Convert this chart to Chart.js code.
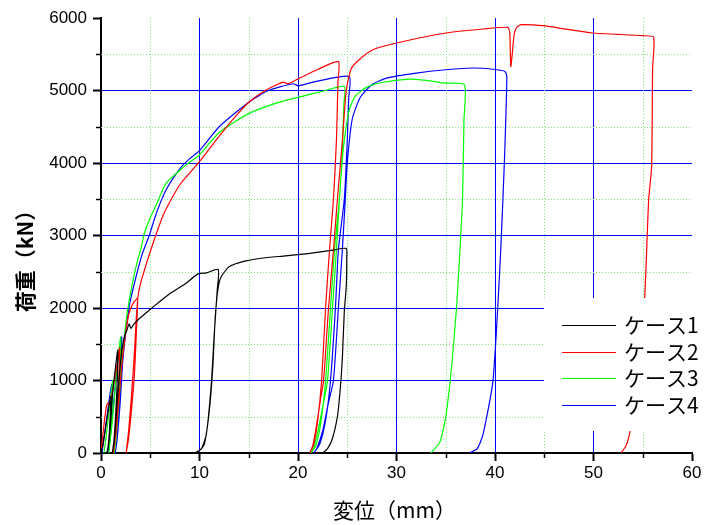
<!DOCTYPE html>
<html>
<head>
<meta charset="utf-8">
<script src="https://cdn.jsdelivr.net/npm/chart.js@4.4.1/dist/chart.umd.min.js"></script>
<style>
  html, body { margin: 0; padding: 0; background: #fff; }
  #mycanvas { display: block; }
</style>
</head>
<body>
<canvas id="mycanvas" width="705" height="525"></canvas>
<script>
// load-displacement records, one pair of arrays per case (mm, kN)
var case1X = [0, 0.2, 0.5, 0.8, 1.0, 0.95, 0.85, 0.7, 0.6, 0.8, 1.0, 1.15, 1.4, 1.7, 1.65, 1.5, 1.3, 1.15,
  1.35, 1.6, 1.85, 2.1, 2.4, 2.65, 2.85, 3.05, 3.3, 3.9, 5.3, 7.0, 8.6, 9.8, 10.7, 11.9,
  11.8, 11.5, 11.2, 10.7, 10.2, 9.5, 10.0, 10.5, 11.0, 11.35, 11.6, 11.9, 12.2, 13.0, 14.7, 17.1,
  18.5, 21.2, 23.5, 24.9, 24.95, 24.9, 24.7, 24.5, 24.3, 24.0, 23.5, 23.0, 22.5];
var case1Y = [0, 120, 380, 640, 780, 550, 280, 60, 0, 150, 450, 780, 1100, 1420, 1000, 550, 150, 0,
  180, 600, 1050, 1400, 1620, 1700, 1780, 1720, 1770, 1855, 2015, 2200, 2338, 2467, 2485, 2532,
  2246, 1647, 956, 265, 58, 0, 35, 127, 587, 1186, 1877, 2291, 2430, 2568, 2650, 2700,
  2716, 2753, 2798, 2822, 2700, 2300, 1950, 1300, 900, 500, 200, 60, 0];

var case2X = [0, 0.15, 0.35, 0.55, 0.7, 0.85, 1.0, 1.3, 1.6, 1.9, 1.8, 1.6, 1.4, 1.25, 1.5, 1.8, 2.1, 2.4,
  2.8, 3.2, 3.7, 3.6, 3.4, 3.1, 2.8, 2.55, 2.8, 3.1, 3.4, 3.6, 3.8, 4.2, 5.3, 6.4, 8.0, 10.0,
  12.0, 13.5, 15.1, 16.8, 18.0, 18.5, 19.0, 20.0, 22.0, 24.1, 24.05, 23.9, 23.6, 23.2, 22.8, 22.4,
  22.0, 21.6, 21.2, 21.5, 21.9, 22.3, 22.6, 23.1, 23.6, 24.0, 24.5, 24.9, 25.4, 26.2, 27.6, 30.0,
  35.0, 38.8, 41.3, 41.5, 41.6, 41.75, 41.95, 42.2, 42.7, 44.9, 47.0, 49.9, 52.5, 55.0, 56.1, 56.0,
  55.9, 55.6, 55.2, 54.6, 54.1, 53.7, 53.3, 52.8];
var case2Y = [0, 200, 450, 640, 690, 660, 730, 950, 1200, 1450, 1000, 500, 150, 0, 250, 700, 1200, 1550,
  1900, 2050, 2131, 1700, 1100, 600, 200, 0, 300, 800, 1400, 1900, 2200, 2430, 2900, 3306, 3700, 4019,
  4370, 4620, 4848, 5010, 5090, 5116, 5093, 5160, 5290, 5400, 5100, 4300, 3500, 2800, 2000, 1000,
  450, 120, 0, 100, 400, 750, 1000, 2000, 2800, 3500, 4300, 5000, 5300, 5424, 5562, 5655,
  5793, 5848, 5871, 5800, 5330, 5500, 5780, 5870, 5908, 5894, 5850, 5793, 5775, 5756, 5738, 5300,
  3950, 3490, 2153, 1200, 600, 288, 100, 0];

var case3X = [0.3, 0.5, 0.8, 1.0, 1.2, 1.1, 0.95, 0.8, 1.0, 1.3, 1.5, 1.8, 2.0, 1.9, 1.7, 1.5, 1.35,
  1.55, 1.85, 2.1, 2.4, 2.7, 3.2, 3.7, 4.1, 4.4, 4.9, 5.6, 6.6, 8.0, 9.0, 10.0, 12.0, 15.1, 17.8,
  20.1, 22.5, 24.7, 24.65, 24.5, 24.2, 23.7, 23.3, 22.8, 22.3, 21.8, 21.3, 21.6, 22.1, 22.6, 23.0,
  23.5, 23.9, 24.2, 24.6, 25.2, 25.8, 26.9, 28.5, 31.3, 33.0, 35.0, 36.9, 36.85, 36.7, 36.4, 36.1,
  35.6, 35.0, 34.4, 33.5];
var case3Y = [0, 200, 550, 800, 1000, 600, 250, 0, 250, 650, 1000, 1400, 1600, 1100, 600, 200, 0,
  250, 750, 1250, 1650, 1969, 2350, 2650, 2844, 3029, 3213, 3420, 3720, 3900, 4010, 4110, 4420, 4688, 4826,
  4909, 4990, 5055, 4800, 4200, 3500, 2800, 2000, 1000, 400, 100, 0, 80, 350, 700, 1000,
  2000, 2800, 3490, 4200, 4730, 4920, 5040, 5110, 5157, 5140, 5102, 5079, 4600, 3490, 2700, 2015,
  1200, 495, 150, 0];

var case4X = [0.1, 0.3, 0.6, 0.9, 1.1, 1.0, 0.85, 0.7, 0.95, 1.25, 1.5, 1.8, 2.1, 2.0, 1.8, 1.6, 1.45,
  1.65, 1.95, 2.2, 2.5, 2.9, 3.5, 4.2, 4.9, 5.6, 6.6, 8.0, 9.0, 10.0, 12.0, 15.1, 17.0, 19.5, 20.0,
  20.4, 22.0, 25.2, 25.15, 25.0, 24.7, 24.1, 23.8, 23.3, 22.8, 22.2, 21.6, 21.9, 22.5, 23.1, 23.6,
  24.1, 24.5, 24.8, 25.0, 25.5, 26.3, 27.5, 29.0, 32.0, 35.0, 37.7, 40.0, 41.0, 41.2, 41.0, 40.8,
  40.5, 39.8, 38.8, 38.2, 37.4];
var case4Y = [0, 200, 500, 800, 950, 550, 200, 0, 250, 650, 1000, 1350, 1600, 1100, 550, 150, 0,
  200, 700, 1250, 1650, 2050, 2400, 2750, 3000, 3300, 3628, 3920, 4060, 4170, 4500, 4848, 5000, 5093, 5065,
  5075, 5130, 5194, 4900, 4300, 3500, 2800, 2000, 1000, 450, 120, 0, 60, 300, 700, 1000,
  2000, 2800, 3500, 4000, 4600, 4900, 5080, 5171, 5240, 5286, 5310, 5290, 5263, 5194, 4200, 3490,
  2568, 1002, 265, 60, 0];

var caseNames = ['ケース1', 'ケース2', 'ケース3', 'ケース4'];
var xTicks = [0, 10, 20, 30, 40, 50, 60];
var yTicks = [0, 1000, 2000, 3000, 4000, 5000, 6000];

var caseColors = ['#000000', '#ff0000', '#00ff00', '#0000ff'];
var jpFont = '"Noto Sans CJK JP", sans-serif';

function toPoints(xs, ys) {
  var pts = [];
  for (var i = 0; i < xs.length; i++) pts.push({ x: xs[i], y: ys[i] });
  return pts;
}

var allX = [case1X, case2X, case3X, case4X];
var allY = [case1Y, case2Y, case3Y, case4Y];
var datasets = [];
for (var i = 0; i < caseNames.length; i++) {
  datasets.push({
    label: caseNames[i],
    data: toPoints(allX[i], allY[i]),
    borderColor: caseColors[i],
    backgroundColor: caseColors[i],
    borderWidth: 1.2,
    pointRadius: 0,
    showLine: true,
    tension: 0.2
  });
}

// dotted half-step grid and the short minor ticks
var minorGrid = {
  id: 'minorGrid',
  beforeDatasetsDraw: function(chart) {
    var ctx = chart.ctx, xs = chart.scales.x, ys = chart.scales.y, a = chart.chartArea;
    ctx.save();
    ctx.strokeStyle = '#7ee87e';
    ctx.lineWidth = 1;
    ctx.setLineDash([1, 2]);
    for (var v = 5; v < 60; v += 10) {
      var px = Math.round(xs.getPixelForValue(v)) + 0.5;
      ctx.beginPath(); ctx.moveTo(px, a.top); ctx.lineTo(px, a.bottom); ctx.stroke();
    }
    for (var w = 500; w < 6000; w += 1000) {
      var py = Math.round(ys.getPixelForValue(w)) + 0.5;
      ctx.beginPath(); ctx.moveTo(a.left, py); ctx.lineTo(a.right, py); ctx.stroke();
    }
    ctx.setLineDash([]);
    ctx.strokeStyle = '#000';
    ctx.lineWidth = 1.5;
    for (v = 5; v < 60; v += 10) {
      px = Math.round(xs.getPixelForValue(v)) + 0.5;
      ctx.beginPath(); ctx.moveTo(px, a.bottom); ctx.lineTo(px, a.bottom + 5); ctx.stroke();
    }
    for (w = 500; w < 6000; w += 1000) {
      py = Math.round(ys.getPixelForValue(w)) + 0.5;
      ctx.beginPath(); ctx.moveTo(a.left, py); ctx.lineTo(a.left - 5, py); ctx.stroke();
    }
    ctx.restore();
  }
};

// legend box sitting inside the plot, blanking what is under it
var boxLegend = {
  id: 'boxLegend',
  afterDatasetsDraw: function(chart) {
    var ctx = chart.ctx, a = chart.chartArea;
    var left = a.right - 148, top = a.top + 280;
    ctx.save();
    ctx.fillStyle = '#fff';
    ctx.fillRect(left, top, 705 - left, 133);
    ctx.font = '21px ' + jpFont;
    ctx.textBaseline = 'middle';
    ctx.fillStyle = '#000';
    chart.data.datasets.forEach(function(ds, k) {
      var y = Math.round(top + 27 + k * 26.7) + 0.5;
      ctx.strokeStyle = ds.borderColor;
      ctx.lineWidth = 1;
      ctx.beginPath(); ctx.moveTo(left + 18, y); ctx.lineTo(left + 72, y); ctx.stroke();
      ctx.fillText(ds.label, left + 80, y);
    });
    ctx.restore();
  }
};

// axis titles
var axisTitles = {
  id: 'axisTitles',
  afterDraw: function(chart) {
    var ctx = chart.ctx, a = chart.chartArea;
    ctx.save();
    ctx.fillStyle = '#000';
    ctx.textAlign = 'center';
    ctx.textBaseline = 'middle';
    ctx.font = '21px ' + jpFont;
    ctx.fillText('変位（mm）', (a.left + a.right) / 2 - 2, 510);
    ctx.font = 'bold 21px ' + jpFont;
    ctx.translate(25, 256);
    ctx.rotate(-Math.PI / 2);
    ctx.fillText('荷重（kN）', 0, 0);
    ctx.restore();
  }
};

function gridColor(last) {
  return function(c) {
    var v = c.tick ? c.tick.value : null;
    return (v === 0 || v === last) ? 'rgba(0,0,0,0)' : '#0000ff';
  };
}

function plainLabel(v) { return String(v); }

var tickFont = { family: '"Liberation Sans", Arial, sans-serif', size: 17 };

var ctx = document.getElementById('mycanvas');
var loadChart = new Chart(ctx, {
  type: 'scatter',
  data: { datasets: datasets },
  plugins: [minorGrid, boxLegend, axisTitles],
  options: {
    responsive: false,
    animation: false,
    layout: { padding: { top: 18, right: 13, left: 0, bottom: 0 } },
    plugins: {
      legend: { display: false },
      tooltip: { enabled: false }
    },
    scales: {
      x: {
        type: 'linear',
        min: 0,
        max: 60,
        afterBuildTicks: function(s) { s.ticks = xTicks.map(function(v) { return { value: v }; }); },
        afterFit: function(s) { s.height = 72; },
        ticks: { color: '#000', font: tickFont, padding: 2, maxRotation: 0, callback: plainLabel },
        grid: { color: gridColor(60), lineWidth: 1, tickColor: '#000', tickLength: 8, tickWidth: 2 },
        border: { color: '#000', width: 2 }
      },
      y: {
        type: 'linear',
        min: 0,
        max: 6000,
        afterBuildTicks: function(s) { s.ticks = yTicks.map(function(v) { return { value: v }; }); },
        afterFit: function(s) { s.width = 101; },
        ticks: { color: '#000', font: tickFont, padding: 6, callback: plainLabel },
        grid: { color: gridColor(6000), lineWidth: 1, tickColor: '#000', tickLength: 8, tickWidth: 2 },
        border: { color: '#000', width: 2 }
      }
    }
  }
});
</script>
</body>
</html>
